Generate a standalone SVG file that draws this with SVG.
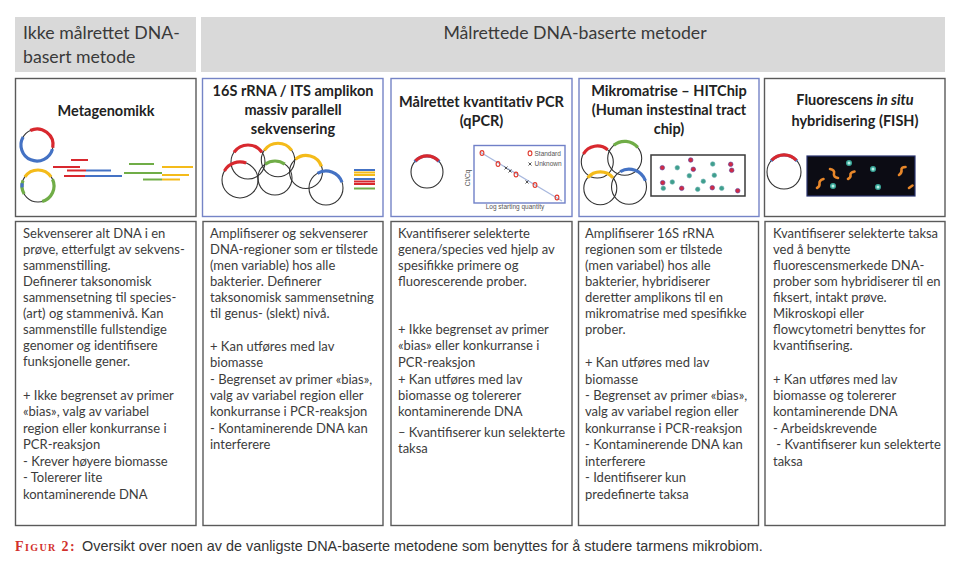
<svg xmlns="http://www.w3.org/2000/svg" width="960" height="568" viewBox="0 0 960 568">
<style>
.hdr{fill:#d9d9d9}
.htx{font-family:Lato,"Liberation Sans",sans-serif;font-size:17.7px;fill:#3a3a3a}
.gbox{fill:#fff;stroke:#5a5a5a;stroke-width:1.4}
.bbox{fill:#fff;stroke:#7584c6;stroke-width:1.4}
.ttl{font-family:Lato,"Liberation Sans",sans-serif;font-size:14.5px;font-weight:bold;fill:#222;text-anchor:middle}
.body{font-family:Lato,"Liberation Sans",sans-serif;font-size:13px;fill:#3c3c3c}
.ring{fill:none;stroke:#333;stroke-width:1.1}
.arc{fill:none;stroke-width:3.2}
.red{stroke:#d8282e}
.blu{stroke:#4472c4}
.grn{stroke:#70ad47}
.yel{stroke:#f4bb1a}
.frag{stroke-width:2}
.rd{fill:#d02a45;stroke:#5a3f9a;stroke-width:0.6}
.td{fill:#3f9f8c;stroke:#6fb0b5;stroke-width:0.6}
.rod{fill:none;stroke:#e8872a;stroke-width:2.6;stroke-linecap:round}
.glow{fill:#3aa89a}
.core{fill:#b9f1e6}
.sm{font-family:"Liberation Sans",sans-serif;font-size:6.5px;fill:#555}
.cap{font-family:"Liberation Sans",Arial,sans-serif;font-size:14.4px;fill:#333}
</style>

<g id="header-untargeted">
<rect class="hdr" x="15" y="17" width="181" height="55"/>
<text class="htx" x="23" y="39">Ikke målrettet DNA-</text>
<text class="htx" x="23" y="63">basert metode</text>
</g>
<g id="header-targeted">
<rect class="hdr" x="201" y="17" width="744" height="55"/>
<text class="htx" x="575" y="39" text-anchor="middle">Målrettede DNA-baserte metoder</text>
</g>

<g id="metagenomikk">
<rect class="gbox" x="15.5" y="78.5" width="180.5" height="138"/>
<text class="ttl" x="106" y="116">Metagenomikk</text>
<circle class="ring" cx="37" cy="145" r="16"/>
<path class="arc blu" d="M52.45,149.14 A16,16 0 1 1 23.14,137"/>
<path class="arc red" d="M30.24,130.5 A16,16 0 0 1 52.76,147.78"/>
<circle class="ring" cx="38" cy="186" r="16"/>
<path class="arc yel" d="M24.9,176.8 A16,16 0 0 1 51.1,176.8"/>
<path class="arc grn" d="M52.5,179.24 A16,16 0 0 1 42.14,201.45"/>
<path class="arc grn" d="M24.14,194 A16,16 0 0 1 22.96,180.53"/>
<path class="arc blu" d="M22.06,187.4 A16,16 0 0 1 22.24,183.2"/>
<g class="frag">
<line class="red" x1="71" y1="160" x2="88" y2="160"/>
<line class="red" x1="53" y1="167" x2="80" y2="167"/>
<line class="red" x1="67" y1="170.5" x2="86" y2="170.5"/>
<line class="blu" x1="86" y1="170.5" x2="111" y2="170.5"/>
<line class="red" x1="64" y1="176" x2="85" y2="176"/>
<line class="blu" x1="85" y1="176" x2="122" y2="176"/>
<line class="grn" x1="129" y1="164" x2="154" y2="164"/>
<line class="yel" x1="162" y1="167" x2="193" y2="167"/>
<line class="grn" x1="124" y1="173" x2="162" y2="173"/>
<line class="yel" x1="162" y1="175" x2="189" y2="175"/>
<line class="grn" x1="143" y1="179.5" x2="162" y2="179.5"/>
<line class="yel" x1="162" y1="179.5" x2="180" y2="179.5"/>
</g>
</g>

<g id="amplikon">
<rect class="bbox" x="202.5" y="78.5" width="180.5" height="138"/>
<text class="ttl" x="293" y="96">16S rRNA / ITS amplikon</text>
<text class="ttl" x="293" y="115">massiv parallell</text>
<text class="ttl" x="293" y="134">sekvensering</text>
<circle class="ring" cx="248" cy="162" r="17"/>
<circle class="ring" cx="278" cy="160" r="16.7"/>
<circle class="ring" cx="240" cy="180" r="18"/>
<circle class="ring" cx="275" cy="178" r="17"/>
<circle class="ring" cx="306" cy="172" r="16.5"/>
<circle class="ring" cx="326" cy="188" r="17"/>
<path class="arc red" d="M234.07,152.25 A17,17 0 0 1 261.93,152.25"/>
<path class="arc yel" d="M264.3,150.4 A16.7,16.7 0 0 1 291.7,150.4"/>
<path class="arc red" d="M224.41,171 A18,18 0 0 1 246.16,163.09"/>
<path class="arc grn" d="M265.25,164.07 A17,17 0 0 1 284.75,164.07"/>
<path class="arc yel" d="M295.4,159.36 A16.5,16.5 0 0 1 321.5,166.36"/>
<path class="arc blu" d="M317.5,173.28 A17,17 0 0 1 341.97,182.19"/>
<g class="frag">
<line class="blu" x1="354" y1="170" x2="375" y2="170"/>
<line class="yel" x1="354" y1="172.5" x2="375" y2="172.5"/>
<line class="yel" x1="354" y1="175" x2="375" y2="175"/>
<line class="blu" x1="354" y1="179" x2="375" y2="179"/>
<line class="red" x1="354" y1="181.5" x2="375" y2="181.5"/>
<line class="red" x1="354" y1="184" x2="375" y2="184"/>
<line class="grn" x1="354" y1="188.5" x2="375" y2="188.5"/>
</g>
</g>

<g id="qpcr">
<rect class="bbox" x="391" y="78.5" width="181" height="138"/>
<text class="ttl" x="481.5" y="107">Målrettet kvantitativ PCR</text>
<text class="ttl" x="481.5" y="126">(qPCR)</text>
<circle class="ring" cx="427" cy="172" r="16"/>
<path class="arc blu" d="M414.74,161.72 A16,16 0 0 1 439.26,161.72" stroke-width="4"/>
<path class="arc red" d="M415.5,160.9 A15.5,15.5 0 0 1 438.5,160.9" stroke-width="2.6"/>
<rect x="474" y="145.5" width="91" height="57.5" fill="#fff" stroke="#7080c8" stroke-width="1.4"/>
<line x1="480" y1="152" x2="562" y2="201" stroke="#a8b8de" stroke-width="1.2"/>
<g fill="none" stroke="#e03a2e" stroke-width="1.1">
<ellipse cx="482" cy="153" rx="1.9" ry="2.4"/>
<ellipse cx="498" cy="164" rx="1.9" ry="2.4"/>
<ellipse cx="516" cy="174.5" rx="1.9" ry="2.4"/>
<ellipse cx="535" cy="185" rx="1.9" ry="2.4"/>
<ellipse cx="557" cy="197.5" rx="1.9" ry="2.4"/>
<ellipse cx="530" cy="153.3" rx="1.9" ry="2.4"/>
</g>
<g stroke="#444" stroke-width="0.9">
<path d="M504.5,166.5 l3,3 m0,-3 l-3,3"/>
<path d="M508.5,169.5 l3,3 m0,-3 l-3,3"/>
<path d="M525.5,180.5 l3,3 m0,-3 l-3,3"/>
<path d="M528.5,162.5 l3,3 m0,-3 l-3,3"/>
</g>
<text class="sm" x="534.5" y="155.8">Standard</text>
<text class="sm" x="534.5" y="166.3">Unknown</text>
<text class="sm" transform="translate(469.5,178) rotate(-90)" text-anchor="middle">Ct/Cq</text>
<text class="sm" x="515" y="209" text-anchor="middle">Log starting quantity</text>
</g>

<g id="hitchip">
<rect class="bbox" x="579" y="78.5" width="180" height="138"/>
<text class="ttl" x="669" y="96">Mikromatrise – HITChip</text>
<text class="ttl" x="669" y="115">(Human instestinal tract</text>
<text class="ttl" x="669" y="134">chip)</text>
<circle class="ring" cx="597.3" cy="162" r="16"/>
<circle class="ring" cx="624.7" cy="158.3" r="17"/>
<circle class="ring" cx="600.3" cy="188.3" r="16.5"/>
<circle class="ring" cx="629" cy="186.7" r="17.5"/>
<path class="arc red" d="M583.44,154 A16,16 0 0 1 607.6,149.74"/>
<path class="arc grn" d="M613.77,145.28 A17,17 0 0 1 637.72,147.37"/>
<path class="arc yel" d="M587.66,177.7 A16.5,16.5 0 0 1 612.94,177.7"/>
<path class="arc blu" d="M620.25,171.54 A17.5,17.5 0 0 1 645.44,180.71"/>
<rect x="651" y="155" width="94" height="41" fill="#fff" stroke="#3a3a3a" stroke-width="1.5"/>
<g>
<circle class="rd" cx="690.7" cy="160" r="2.3"/>
<circle class="rd" cx="662.3" cy="167.7" r="2.3"/>
<circle class="rd" cx="693.3" cy="169.3" r="2.3"/>
<circle class="rd" cx="730.7" cy="164.3" r="2.3"/>
<circle class="rd" cx="731.7" cy="170.3" r="2.3"/>
<circle class="rd" cx="662.7" cy="182.7" r="2.3"/>
<circle class="rd" cx="681.7" cy="188.3" r="2.3"/>
<circle class="rd" cx="712.3" cy="187.7" r="2.3"/>
<circle class="rd" cx="737.7" cy="190.7" r="2.3"/>
<circle class="td" cx="677.3" cy="167.7" r="2.3"/>
<circle class="td" cx="712.7" cy="164" r="2.3"/>
<circle class="td" cx="689.3" cy="175.7" r="2.3"/>
<circle class="td" cx="714.3" cy="175.3" r="2.3"/>
<circle class="td" cx="672.3" cy="182" r="2.3"/>
<circle class="td" cx="703.3" cy="181.3" r="2.3"/>
<circle class="td" cx="663.3" cy="188.3" r="2.3"/>
<circle class="td" cx="697.7" cy="189.3" r="2.3"/>
<circle class="td" cx="721.7" cy="188.3" r="2.3"/>
</g>
</g>

<g id="fish">
<rect class="gbox" x="764.5" y="78.5" width="180.5" height="138"/>
<text class="ttl" x="855" y="105">Fluorescens <tspan font-style="italic">in situ</tspan></text>
<text class="ttl" x="855" y="126">hybridisering (FISH)</text>
<circle class="ring" cx="784" cy="172" r="17"/>
<path class="arc blu" d="M770.98,161.07 A17,17 0 0 1 797.02,161.07" stroke-width="4"/>
<path class="arc red" d="M771.7,160.3 A16.5,16.5 0 0 1 796.3,160.3" stroke-width="2.6"/>
<rect x="807" y="156" width="108" height="40" fill="#0c0c14" stroke="#2a3470" stroke-width="1.2"/>
<circle class="glow" cx="849" cy="163" r="3"/><circle class="core" cx="849" cy="163" r="1.5"/>
<circle class="glow" cx="873" cy="169" r="3"/><circle class="core" cx="873" cy="169" r="1.5"/>
<circle class="glow" cx="833" cy="186" r="3"/><circle class="core" cx="833" cy="186" r="1.5"/>
<circle class="glow" cx="878" cy="187" r="3"/><circle class="core" cx="878" cy="187" r="1.5"/>
<path class="rod" d="M830,169 Q835,170 834,173.5 T838,178"/>
<path class="rod" d="M817,188 Q820,186.5 819.5,183.5 T823.5,179"/>
<path class="rod" d="M848,179 Q851,177.5 850.5,175 T854.5,171.5"/>
<path class="rod" d="M899,175 Q902,173 901.5,170 T905.5,167"/>
<path class="rod" d="M909,188 L912.5,185.5"/>
</g>

<g id="text-metagenomikk">
<rect class="gbox" x="15.5" y="221.5" width="180.5" height="304"/>
<text class="body">
<tspan x="23" y="238">Sekvenserer alt DNA i en</tspan>
<tspan x="23" y="254">prøve, etterfulgt av sekvens-</tspan>
<tspan x="23" y="270">sammenstilling.</tspan>
<tspan x="23" y="286">Definerer taksonomisk</tspan>
<tspan x="23" y="302">sammensetning til species-</tspan>
<tspan x="23" y="318">(art) og stammenivå. Kan</tspan>
<tspan x="23" y="334">sammenstille fullstendige</tspan>
<tspan x="23" y="350">genomer og identifisere</tspan>
<tspan x="23" y="366">funksjonelle gener.</tspan>
<tspan x="23" y="400">+ Ikke begrenset av primer</tspan>
<tspan x="23" y="416">«bias», valg av variabel</tspan>
<tspan x="23" y="433">region eller konkurranse i</tspan>
<tspan x="23" y="449">PCR-reaksjon</tspan>
<tspan x="23" y="466">- Krever høyere biomasse</tspan>
<tspan x="23" y="482">- Tolererer lite</tspan>
<tspan x="23" y="499">kontaminerende DNA</tspan>
</text>
</g>

<g id="text-amplikon">
<rect class="gbox" x="203" y="221.5" width="180" height="304"/>
<text class="body">
<tspan x="210" y="238">Amplifiserer og sekvenserer</tspan>
<tspan x="210" y="254">DNA-regioner som er tilstede</tspan>
<tspan x="210" y="270">(men variable) hos alle</tspan>
<tspan x="210" y="286">bakterier. Definerer</tspan>
<tspan x="210" y="302">taksonomisk sammensetning</tspan>
<tspan x="210" y="318">til genus- (slekt) nivå.</tspan>
<tspan x="210" y="351">+ Kan utføres med lav</tspan>
<tspan x="210" y="367">biomasse</tspan>
<tspan x="210" y="384">- Begrenset av primer «bias»,</tspan>
<tspan x="210" y="400">valg av variabel region eller</tspan>
<tspan x="210" y="416">konkurranse i PCR-reaksjon</tspan>
<tspan x="210" y="433">- Kontaminerende DNA kan</tspan>
<tspan x="210" y="449">interferere</tspan>
</text>
</g>

<g id="text-qpcr">
<rect class="gbox" x="391" y="221.5" width="181" height="304"/>
<text class="body">
<tspan x="398" y="238">Kvantifiserer selekterte</tspan>
<tspan x="398" y="254">genera/species ved hjelp av</tspan>
<tspan x="398" y="270">spesifikke primere og</tspan>
<tspan x="398" y="286">fluorescerende prober.</tspan>
<tspan x="398" y="334">+ Ikke begrenset av primer</tspan>
<tspan x="398" y="350">«bias» eller konkurranse i</tspan>
<tspan x="398" y="367">PCR-reaksjon</tspan>
<tspan x="398" y="384">+ Kan utføres med lav</tspan>
<tspan x="398" y="400">biomasse og tolererer</tspan>
<tspan x="398" y="416">kontaminerende DNA</tspan>
<tspan x="398" y="437">– Kvantifiserer kun selekterte</tspan>
<tspan x="398" y="453">taksa</tspan>
</text>
</g>

<g id="text-hitchip">
<rect class="gbox" x="578.5" y="221.5" width="180" height="304"/>
<text class="body">
<tspan x="585" y="238">Amplifiserer 16S rRNA</tspan>
<tspan x="585" y="254">regionen som er tilstede</tspan>
<tspan x="585" y="270">(men variabel) hos alle</tspan>
<tspan x="585" y="286">bakterier, hybridiserer</tspan>
<tspan x="585" y="302">deretter amplikons til en</tspan>
<tspan x="585" y="318">mikromatrise med spesifikke</tspan>
<tspan x="585" y="334">prober.</tspan>
<tspan x="585" y="367">+ Kan utføres med lav</tspan>
<tspan x="585" y="384">biomasse</tspan>
<tspan x="585" y="400">- Begrenset av primer «bias»,</tspan>
<tspan x="585" y="416">valg av variabel region eller</tspan>
<tspan x="585" y="433">konkurranse i PCR-reaksjon</tspan>
<tspan x="585" y="449">- Kontaminerende DNA kan</tspan>
<tspan x="585" y="466">interferere</tspan>
<tspan x="585" y="482">- Identifiserer kun</tspan>
<tspan x="585" y="499">predefinerte taksa</tspan>
</text>
</g>

<g id="text-fish">
<rect class="gbox" x="765" y="221.5" width="180" height="304"/>
<text class="body" xml:space="preserve">
<tspan x="773" y="238">Kvantifiserer selekterte taksa</tspan>
<tspan x="773" y="254">ved å benytte</tspan>
<tspan x="773" y="270">fluorescensmerkede DNA-</tspan>
<tspan x="773" y="286">prober som hybridiserer til en</tspan>
<tspan x="773" y="302">fiksert, intakt prøve.</tspan>
<tspan x="773" y="318">Mikroskopi eller</tspan>
<tspan x="773" y="334">flowcytometri benyttes for</tspan>
<tspan x="773" y="350">kvantifisering.</tspan>
<tspan x="773" y="384">+ Kan utføres med lav</tspan>
<tspan x="773" y="400">biomasse og tolererer</tspan>
<tspan x="773" y="416">kontaminerende DNA</tspan>
<tspan x="773" y="433">- Arbeidskrevende</tspan>
<tspan x="773" y="449"> - Kvantifiserer kun selekterte</tspan>
<tspan x="773" y="466">taksa</tspan>
</text>
</g>

<g id="connectors"/>

<g id="caption">
<text x="15" y="551" font-family="'Liberation Serif',serif" font-weight="bold" font-size="14" font-variant="small-caps" letter-spacing="1.4" fill="#d2302c">Figur 2:</text>
<text class="cap" x="82" y="551">Oversikt over noen av de vanligste DNA-baserte metodene som benyttes for å studere tarmens mikrobiom.</text>
</g>
</svg>
